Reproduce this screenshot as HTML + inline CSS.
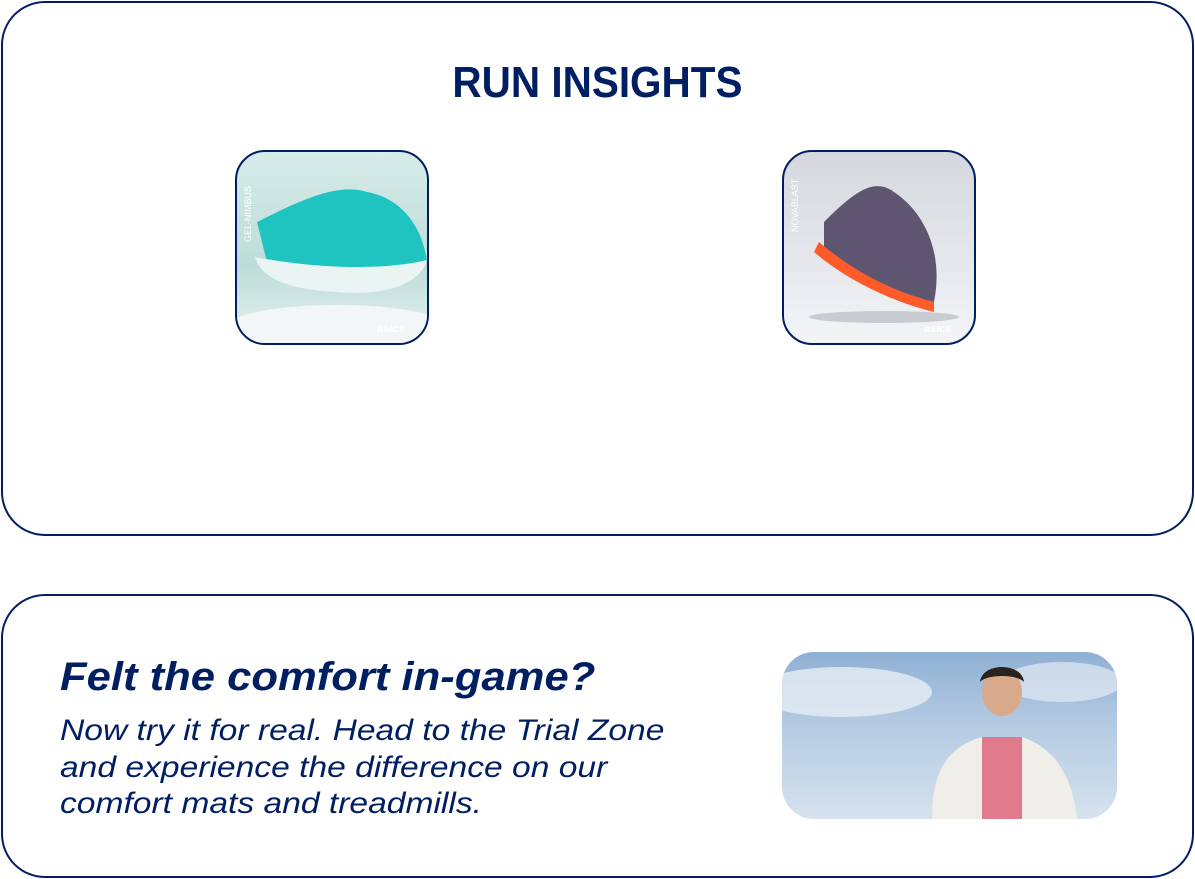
<!DOCTYPE html>
<html><head><meta charset="utf-8"><style>
html,body{margin:0;padding:0;background:#fff;}
body{width:1195px;height:879px;position:relative;overflow:hidden;font-family:"Liberation Sans",sans-serif;color:#001e62;}
.card{position:absolute;border:2px solid #001e62;border-radius:44px;box-sizing:border-box;background:#fff;}
.title{position:absolute;left:0;width:1195px;top:58px;text-align:center;font-weight:bold;font-size:44px;line-height:50px;transform:scaleX(0.92);transform-origin:597px 0;}
.tile{position:absolute;width:194px;height:195px;border:2px solid #001e62;border-radius:30px;box-sizing:border-box;overflow:hidden;}
.h{position:absolute;left:60px;top:652px;font-style:italic;font-weight:bold;font-size:40px;line-height:50px;white-space:nowrap;transform:scaleX(1.09);transform-origin:0 0;}
.p{position:absolute;left:60px;top:713px;font-style:italic;font-size:30px;line-height:36.5px;transform:scaleX(1.12);transform-origin:0 0;white-space:nowrap;}
.banner{position:absolute;left:782px;top:652px;width:335px;height:167px;border-radius:32px;overflow:hidden;background:linear-gradient(180deg,#8fb0d4 0%,#b5cbe2 45%,#d6e2ee 100%);}
</style></head><body>
<div class="card" style="left:1px;top:1px;width:1193px;height:535px;"></div>
<div class="title">RUN INSIGHTS</div>
<div class="tile" style="left:235px;top:150px;background:linear-gradient(180deg,#d7ece9 0%,#bcdcd8 60%,#e8f2f1 100%);">
<svg width="194" height="195">
<ellipse cx="100" cy="175" rx="110" ry="22" fill="#f2f6f6"/>
<path d="M20 70 C60 50 100 30 130 40 C160 45 185 70 190 110 C150 120 90 120 30 110 Z" fill="#1fc4c0"/>
<path d="M18 105 C70 115 140 120 190 108 C185 130 150 145 100 140 C60 138 25 130 18 105 Z" fill="#e9f4f3"/>
<text x="-90" y="14" transform="rotate(-90)" font-size="9" fill="#fff" font-family="Liberation Sans">GEL-NIMBUS</text>
<text x="140" y="180" font-size="11" fill="#fff" font-style="italic" font-weight="bold">asics</text>
</svg></div>
<div class="tile" style="left:782px;top:150px;background:linear-gradient(180deg,#d4d7dd 0%,#e6e8ec 60%,#f3f4f6 100%);">
<svg width="194" height="195">
<path d="M40 70 C70 40 90 25 110 40 C140 60 160 100 150 150 C110 140 70 120 40 95 Z" fill="#5e5670"/>
<path d="M35 90 C70 120 110 140 150 150 L150 160 C110 150 65 130 30 100 Z" fill="#ff5a2a"/>
<ellipse cx="100" cy="165" rx="75" ry="6" fill="#c8cbd1"/>
<text x="-80" y="14" transform="rotate(-90)" font-size="9" fill="#fff" font-family="Liberation Sans">NOVABLAST</text>
<text x="140" y="180" font-size="11" fill="#fff" font-style="italic" font-weight="bold">asics</text>
</svg></div>
<div class="card" style="left:1px;top:594px;width:1193px;height:284px;"></div>
<div class="h">Felt the comfort in-game?</div>
<div class="p">Now try it for real. Head to the Trial Zone<br>and experience the difference on our<br>comfort mats and treadmills.</div>
<div class="banner">
<svg width="335" height="167">
<ellipse cx="60" cy="40" rx="90" ry="25" fill="#e6edf4" opacity="0.8"/>
<ellipse cx="280" cy="30" rx="60" ry="20" fill="#e3eaf2" opacity="0.7"/>
<path d="M150 167 C150 120 165 95 200 85 L240 85 C270 95 290 120 295 167 Z" fill="#f0eee8"/>
<rect x="200" y="85" width="40" height="82" fill="#e07a8c"/>
<ellipse cx="220" cy="40" rx="20" ry="24" fill="#d8a98a"/>
<path d="M198 30 C200 10 240 10 242 30 C235 22 205 22 198 30 Z" fill="#2a2220"/>
</svg></div>
</body></html>
